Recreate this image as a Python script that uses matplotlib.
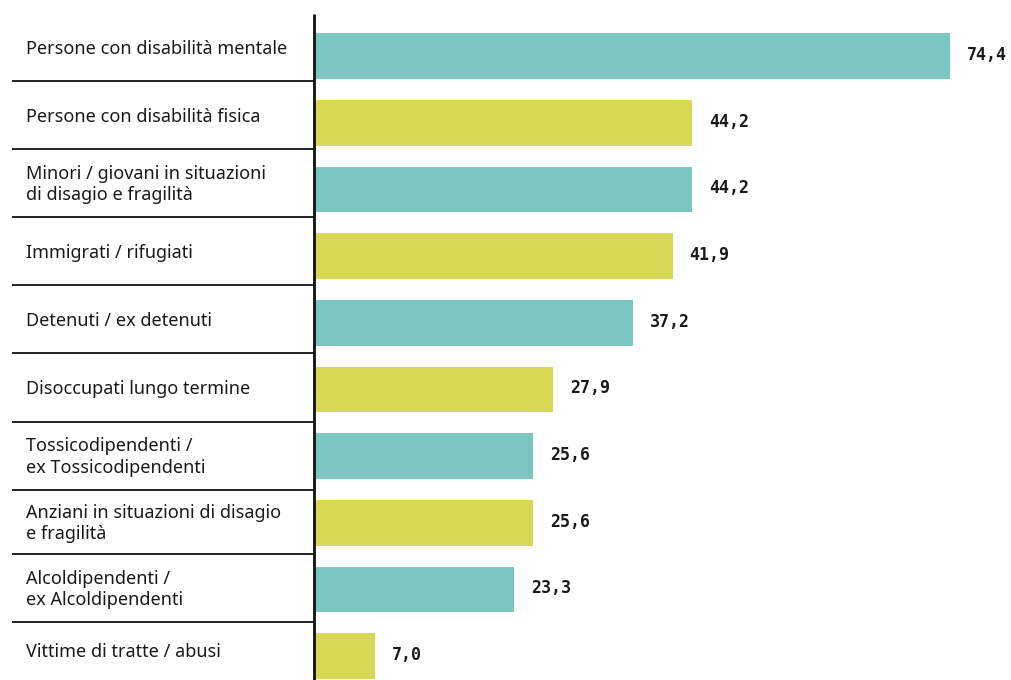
import matplotlib
matplotlib.use("Agg")
import matplotlib.pyplot as plt

categories = [
    "Persone con disabilità mentale",
    "Persone con disabilità fisica",
    "Minori / giovani in situazioni\ndi disagio e fragilità",
    "Immigrati / rifugiati",
    "Detenuti / ex detenuti",
    "Disoccupati lungo termine",
    "Tossicodipendenti /\nex Tossicodipendenti",
    "Anziani in situazioni di disagio\ne fragilità",
    "Alcoldipendenti /\nex Alcoldipendenti",
    "Vittime di tratte / abusi",
]
values = [74.4, 44.2, 44.2, 41.9, 37.2, 27.9, 25.6, 25.6, 23.3, 7.0]
value_labels = ["74,4", "44,2", "44,2", "41,9", "37,2", "27,9", "25,6", "25,6", "23,3", "7,0"]

teal = "#7AC6C0"
yellow = "#D8D856"
colors = [teal if i % 2 == 0 else yellow for i in range(len(values))]

W, H = 1012, 680
fig = plt.figure(figsize=(W / 100, H / 100), dpi=100)
ax = fig.add_axes([0, 0, 1, 1])

# pixel layout -> data units
x0_px, px_per_unit = 315, 8.535
y0_px, row_px = 56, 66.67
ax.set_xlim(-x0_px / px_per_unit, (W - x0_px) / px_per_unit)
ax.set_ylim((H - y0_px) / row_px, -y0_px / row_px)
ax.axis("off")


def py(p):
    return (p - y0_px) / row_px


def px(p):
    return (p - x0_px) / px_per_unit


ypos = list(range(len(values)))
ax.barh(ypos, values, height=0.685, color=colors, zorder=2)

for y, v, lab in zip(ypos, values, value_labels):
    ax.text(v + 2.0, y - 0.015, lab, ha="left", va="center", fontsize=12,
            fontweight="bold", family="DejaVu Sans Mono", color="#1a1a1a")

# row separators (pixel rows of the table on the left)
seps = [14, 81, 149, 217, 285, 353, 421.5, 489.5, 554, 621.5, 680]
for i, cat in enumerate(categories):
    ymid = py((seps[i] + seps[i + 1]) / 2 + 1.5)
    ax.text(px(26), ymid, cat, ha="left", va="center", fontsize=13,
            family="Noto Sans", color="#1a1a1a", linespacing=1.25)
for s in seps[1:-1]:
    ax.plot([px(12), 0], [py(s), py(s)], color="#111111", lw=1.3,
            solid_capstyle="butt")

ax.plot([-0.1, -0.1], [py(14), py(H)], color="#111111", lw=2,
        solid_capstyle="butt", zorder=3)

fig.savefig("out.png", dpi=100)
